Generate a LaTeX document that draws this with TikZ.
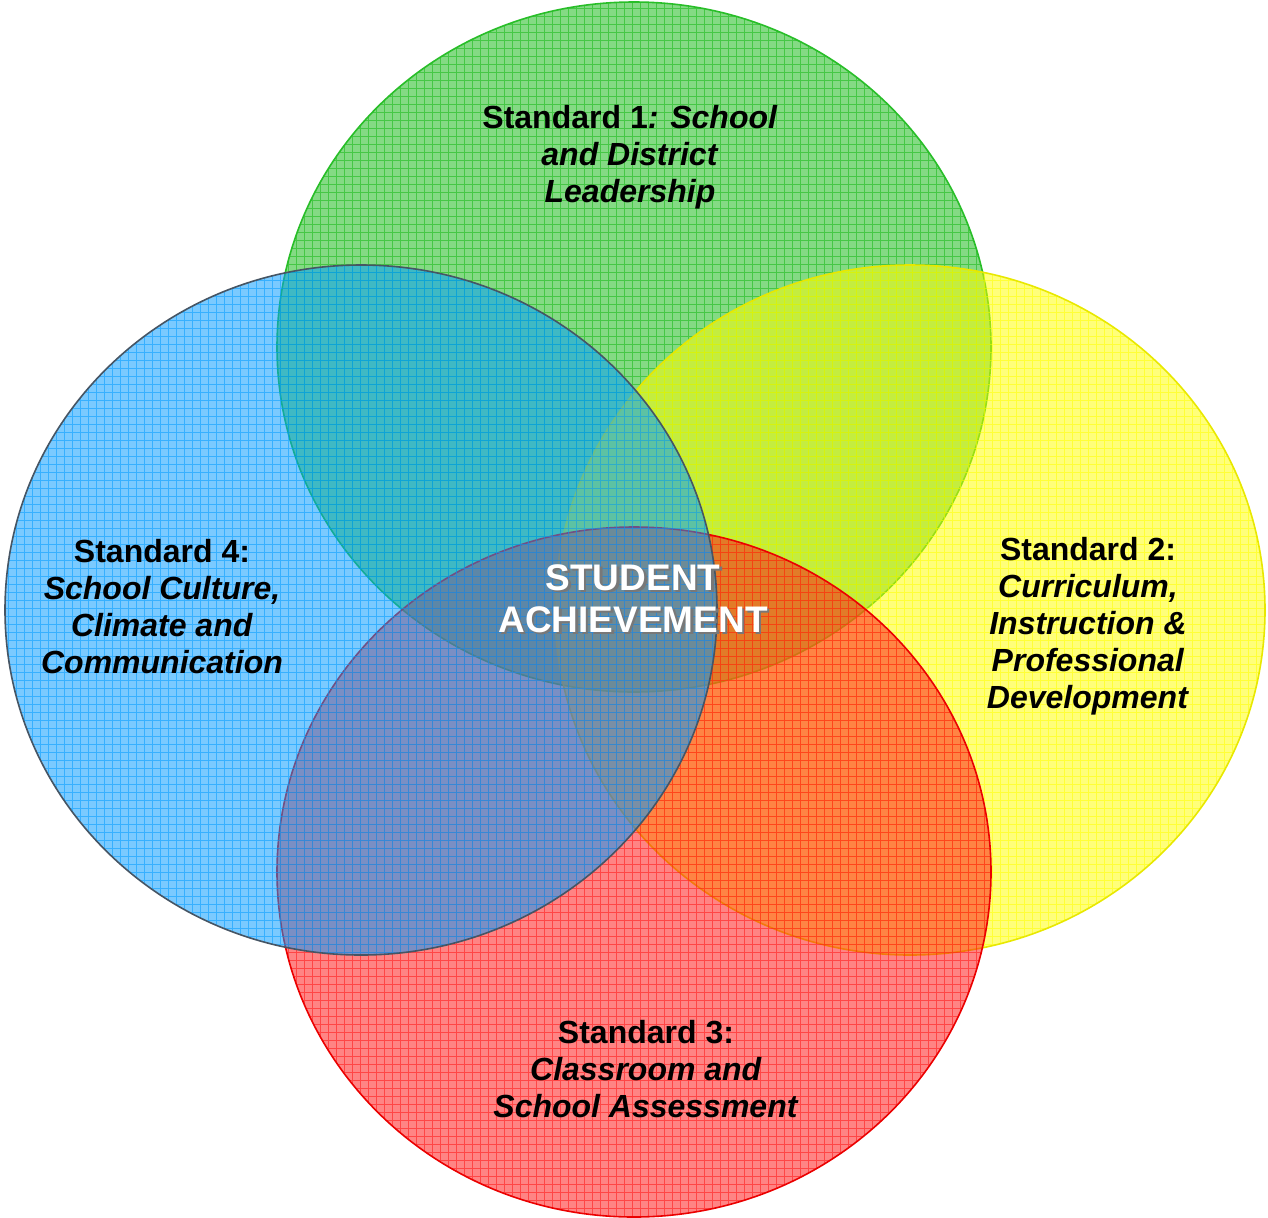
\documentclass[tikz,border=0pt]{standalone}
\usepackage{fontspec}
\setmainfont{Liberation Sans}
\definecolor{cGreen}{RGB}{20,185,20}
\definecolor{cGreenL}{RGB}{40,190,40}
\definecolor{cYellow}{RGB}{255,255,0}
\definecolor{cYellowL}{RGB}{232,232,0}
\definecolor{cRed}{RGB}{255,20,20}
\definecolor{cRedL}{RGB}{235,0,0}
\definecolor{cBlue}{RGB}{0,155,255}
\definecolor{cBlueL}{RGB}{70,85,100}
\definecolor{cShadow}{RGB}{120,120,120}
\tikzset{
  lbl/.style={align=center, font=\bfseries\fontsize{16}{18.5}\selectfont, text=black, inner sep=0pt},
  core/.style={align=center, font=\bfseries\fontsize{18.5}{21}\selectfont, inner sep=0pt, text=white},
}
\newcommand{\shadowtxt}[1]{\makebox[0pt][l]{\hspace{1.2pt}\raisebox{-1.2pt}{\textcolor{cShadow}{#1}}}#1}
\newcommand{\venncircle}[6]{%
  \begin{scope}
    \clip (#1,#2) ellipse [x radius=#3, y radius=#4];
    \fill[#5, opacity=0.52] (#1,#2) ellipse [x radius=#3, y radius=#4];
    \draw[#5, opacity=0.55, line width=0.45pt, step=4pt] (0,0) grid (1268,1217);
  \end{scope}
  \draw[#6, line width=0.8pt] (#1,#2) ellipse [x radius=#3, y radius=#4];
}
\begin{document}
\begin{tikzpicture}[x=0.5pt,y=-0.5pt]
\useasboundingbox (0,0) rectangle (1268,1217);
\fill[white] (0,0) rectangle (1268,1217);
\venncircle{634}{347}{357}{345}{cGreen}{cGreenL}
\venncircle{910}{610}{355}{345}{cYellow}{cYellowL}
\venncircle{634}{872}{357}{345}{cRed}{cRedL}
\venncircle{361}{610}{356}{345}{cBlue}{cBlueL}

\node[lbl] (s1) at (630,157) {Standard 1\textit{: School}\\ \textit{and District}\\ \textit{Leadership}};
\node[lbl] (s4) at (162,607) {Standard 4:\\ \textit{School Culture,}\\ \textit{Climate and}\\ \textit{Communication}};
\node[lbl] (s2) at (1088,626) {Standard 2:\\ \textit{Curriculum,}\\ \textit{Instruction \&}\\ \textit{Professional}\\ \textit{Development}};
\node[lbl] (s3) at (646,1069) {Standard 3:\\ \textit{Classroom and}\\ \textit{School Assessment}};
\node[core] (core) at (633,600) {\shadowtxt{STUDENT}\\ \shadowtxt{ACHIEVEMENT}};
\end{tikzpicture}
\end{document}
